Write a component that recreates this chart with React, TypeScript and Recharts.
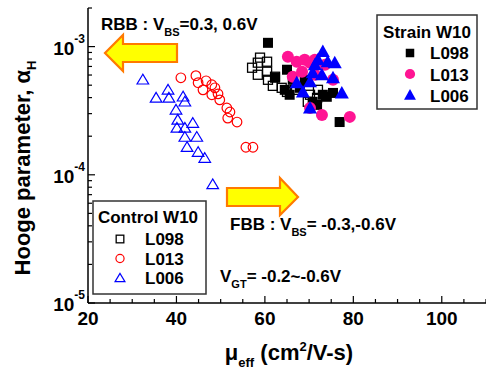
import React from 'react';
import { ScatterChart, Scatter, XAxis, YAxis } from 'recharts';

// [mobility, hooge] pairs
const controlL098 = [
  [57.1, 6.84e-4], [58.4, 7.49e-4], [58.9, 8.2e-4], [60.5, 7.62e-4], [58.4, 6.03e-4],
  [60.5, 6.37e-4], [62.3, 5.82e-4], [60.7, 5.51e-4], [61.8, 4.94e-4], [63.8, 4.77e-4],
  [65.0, 4.43e-4], [66.8, 4.6e-4], [70.2, 4.21e-4], [71.8, 3.98e-4], [69.7, 3.71e-4],
  [72.0, 4.6e-4],
];
const controlL013 = [
  [41.0, 5.71e-4], [44.4, 5.93e-4], [44.9, 5.23e-4], [46.7, 5.41e-4], [48.0, 5.04e-4],
  [48.7, 4.77e-4], [46.0, 4.6e-4], [48.0, 4.21e-4], [49.4, 4.28e-4], [49.8, 3.84e-4],
  [51.4, 3.32e-4], [52.1, 3.09e-4], [51.6, 2.77e-4], [53.7, 2.58e-4], [55.7, 1.64e-4],
  [57.3, 1.64e-4],
];
const controlL006 = [
  [32.4, 5.51e-4], [35.4, 3.98e-4], [38.1, 4.6e-4], [38.3, 3.98e-4], [41.5, 4.06e-4],
  [41.9, 3.71e-4], [39.9, 3.21e-4], [40.3, 2.68e-4], [43.7, 2.53e-4], [40.1, 2.32e-4],
  [41.9, 2.32e-4], [41.9, 1.97e-4], [44.6, 1.97e-4], [42.4, 1.64e-4], [44.9, 1.5e-4],
  [46.4, 1.35e-4], [48.2, 8.4e-5],
];
const strainL098 = [
  [60.7, 1.07e-3], [62.3, 5.71e-4], [65.0, 6.6e-4], [66.3, 5.51e-4], [64.5, 4.6e-4],
  [65.6, 4.21e-4], [67.9, 4.77e-4], [70.8, 3.71e-4], [71.8, 3.51e-4], [73.1, 4.21e-4],
  [74.0, 4.06e-4], [75.4, 4.35e-4], [76.9, 2.58e-4], [69.0, 5.51e-4],
];
const strainL013 = [
  [65.2, 8.35e-4], [67.2, 7.62e-4], [69.0, 7.91e-4], [70.2, 7.49e-4], [71.3, 7.91e-4],
  [66.3, 5.82e-4], [68.4, 6.37e-4], [71.3, 6.03e-4], [75.4, 5.51e-4], [70.2, 3.32e-4],
  [72.9, 2.93e-4], [79.2, 2.83e-4], [73.6, 7.22e-4],
];
const strainL006 = [
  [73.1, 9.14e-4], [72.0, 7.91e-4], [74.2, 7.62e-4], [75.8, 7.49e-4], [70.8, 6.25e-4],
  [72.9, 6.03e-4], [67.2, 5.23e-4], [70.2, 5.31e-4], [75.4, 5.71e-4], [68.6, 4.43e-4],
  [77.4, 4.35e-4], [70.2, 3.32e-4], [71.3, 7.22e-4],
];

const xTicks = [20, 25, 30, 35, 40, 45, 50, 55, 60, 65, 70, 75, 80, 85, 90, 95, 100, 105, 110];
const xLabels = [20, 40, 60, 80, 100];
const yDecades = [1e-5, 1e-4, 1e-3];
const yMantissas = [1, 2, 3, 4, 5, 6, 7, 8, 9];
const yTicks = yDecades.flatMap(d => yMantissas.map(m => m * d)).filter(v => v <= 2.01e-3);

const FONT = '"Liberation Sans", Arial, sans-serif';
const toPts = (arr: number[][]) => arr.map(([x, y]) => ({ x, y }));

type Kind = 'osq' | 'ocirc' | 'otri' | 'fsq' | 'fcirc' | 'ftri';

function Marker({ cx, cy, kind, s = 1 }: { cx: number; cy: number; kind: Kind; s?: number }) {
  if (cx == null || cy == null) return null;
  switch (kind) {
    case 'osq':
      return <rect x={cx - 4.5 * s} y={cy - 4.5 * s} width={9 * s} height={9 * s} fill="none" stroke="#000" strokeWidth={1.3} />;
    case 'ocirc':
      return <circle cx={cx} cy={cy} r={4.8 * s} fill="none" stroke="#ff0000" strokeWidth={1.2} />;
    case 'otri':
      return <polygon points={`${cx},${cy - 5.5 * s} ${cx - 5.8 * s},${cy + 4.2 * s} ${cx + 5.8 * s},${cy + 4.2 * s}`} fill="none" stroke="#0000ff" strokeWidth={1.2} />;
    case 'fsq':
      return <rect x={cx - 5 * s} y={cy - 5 * s} width={10 * s} height={10 * s} fill="#000" />;
    case 'fcirc':
      return <circle cx={cx} cy={cy} r={6 * s} fill="#ff1493" />;
    case 'ftri':
      return <polygon points={`${cx},${cy - 7 * s} ${cx - 7 * s},${cy + 5.5 * s} ${cx + 7 * s},${cy + 5.5 * s}`} fill="#0000ff" />;
  }
  return null;
}

const shapeOf = (kind: Kind) => (p: any) => <Marker cx={p.cx} cy={p.cy} kind={kind} />;

function BottomTick({ x, y, payload }: any) {
  const v = payload.value;
  const major = xLabels.includes(v);
  return (
    <g>
      <line x1={x} x2={x} y1={y} y2={y - (major ? 7 : 4)} stroke="#000" strokeWidth={1.2} />
      {major && (
        <text x={x} y={y + 22} textAnchor="middle" fontFamily={FONT} fontWeight="bold" fontSize={19} fill="#000">{v}</text>
      )}
    </g>
  );
}

function TopTick({ x, y, payload }: any) {
  const major = xLabels.includes(payload.value);
  return <line x1={x} x2={x} y1={y} y2={y + (major ? 7 : 4)} stroke="#000" strokeWidth={1.2} />;
}

function LeftTick({ x, y, payload }: any) {
  const v = payload.value;
  const idx = yDecades.findIndex(d => Math.abs(d - v) / d < 1e-6);
  const major = idx >= 0;
  return (
    <g>
      <line x1={x} x2={x + (major ? 7 : 4)} y1={y} y2={y} stroke="#000" strokeWidth={1.2} />
      {major && (
        <text x={85} y={y + 8} textAnchor="end" fontFamily={FONT} fontWeight="bold" fontSize={19} fill="#000">
          10<tspan dy={-12} fontSize={12}>{String(Math.round(Math.log10(v)))}</tspan>
        </text>
      )}
    </g>
  );
}

function RightTick({ x, y, payload }: any) {
  const v = payload.value;
  const major = yDecades.some(d => Math.abs(d - v) / d < 1e-6);
  return <line x1={x} x2={x - (major ? 7 : 4)} y1={y} y2={y} stroke="#000" strokeWidth={1.2} />;
}

const strainLegend: { name: string; kind: Kind }[] = [
  { name: 'L098', kind: 'fsq' },
  { name: 'L013', kind: 'fcirc' },
  { name: 'L006', kind: 'ftri' },
];
const controlLegend: { name: string; kind: Kind }[] = [
  { name: 'L098', kind: 'osq' },
  { name: 'L013', kind: 'ocirc' },
  { name: 'L006', kind: 'otri' },
];

function Overlay() {
  const t = { fontFamily: FONT, fontWeight: 'bold' as const, fill: '#000' };
  return (
    <svg width={486} height={372} style={{ position: 'absolute', left: 0, top: 0, pointerEvents: 'none' }}>
      {/* arrows */}
      <polygon points="105,53 123,35 123,44 177,44 177,62 123,62 123,71" fill="#ffff00" stroke="#ff7a00" strokeWidth={2.2} strokeLinejoin="miter" />
      <polygon points="298,197 280,178 280,188 227,188 227,206 280,206 280,215" fill="#ffff00" stroke="#ff7a00" strokeWidth={2.2} strokeLinejoin="miter" />

      <text x={101} y={30} fontSize={17} {...t}>
        RBB : V<tspan dy={6} fontSize={11}>BS</tspan><tspan dy={-6}>=0.3, 0.6V</tspan>
      </text>
      <text x={230} y={230} fontSize={17} {...t}>
        FBB : V<tspan dy={6} fontSize={11}>BS</tspan><tspan dy={-6}>= -0.3,-0.6V</tspan>
      </text>
      <text x={220} y={282} fontSize={17} {...t}>
        V<tspan dy={6} fontSize={11}>GT</tspan><tspan dy={-6}>= -0.2~-0.6V</tspan>
      </text>

      {/* strain legend */}
      <rect x={377} y={15} width={100} height={94} fill="#fff" stroke="#333" strokeWidth={1.5} />
      <text x={427} y={38} textAnchor="middle" fontSize={17} {...t}>Strain W10</text>
      {strainLegend.map((e, i) => (
        <g key={e.name}>
          <Marker cx={410} cy={53 + i * 21} kind={e.kind} s={0.85} />
          <text x={430} y={59 + i * 21.5} fontSize={17} {...t}>{e.name}</text>
        </g>
      ))}

      {/* control legend */}
      <rect x={93} y={201} width={113} height={93} fill="#fff" stroke="#333" strokeWidth={1.5} />
      <text x={148} y={223} textAnchor="middle" fontSize={17} {...t}>Control W10</text>
      {controlLegend.map((e, i) => (
        <g key={e.name}>
          <Marker cx={120} cy={239 + i * 19.5} kind={e.kind} s={0.85} />
          <text x={145} y={245 + i * 19.5} fontSize={17} {...t}>{e.name}</text>
        </g>
      ))}

      {/* axis titles */}
      <text x={289} y={360} textAnchor="middle" fontSize={22} {...t}>
        μ<tspan dy={7} fontSize={13}>eff</tspan><tspan dy={-7}> (cm</tspan><tspan dy={-9} fontSize={13}>2</tspan><tspan dy={9}>/V-s)</tspan>
      </text>
      <text transform="translate(30,168) rotate(-90)" x={0} y={0} textAnchor="middle" fontSize={22} {...t}>
        Hooge parameter, α<tspan dy={6} fontSize={13}>H</tspan>
      </text>
    </svg>
  );
}

export default function App() {
  return (
    <div style={{ position: 'absolute', left: 0, top: 0, width: 486, height: 372, background: '#fff' }}>
      <ScatterChart width={486} height={372} margin={{ top: 8, right: 0, bottom: 0, left: 0 }}>
        <XAxis
          xAxisId="b" dataKey="x" type="number" domain={[20, 110]} ticks={xTicks} interval={0}
          allowDataOverflow height={69} tickSize={0} tickMargin={0} tick={<BottomTick />}
          axisLine={{ stroke: '#000', strokeWidth: 1.5 }} tickLine={false}
        />
        <XAxis
          xAxisId="t" orientation="top" type="number" domain={[20, 110]} ticks={xTicks} interval={0}
          allowDataOverflow height={0} tickSize={0} tickMargin={0} tick={<TopTick />}
          axisLine={{ stroke: '#000', strokeWidth: 1.5 }} tickLine={false}
        />
        <YAxis
          yAxisId="l" dataKey="y" type="number" scale="log" domain={[1e-5, 2e-3]} ticks={yTicks} interval={0}
          allowDataOverflow width={88} tickSize={0} tickMargin={0} tick={<LeftTick />}
          axisLine={{ stroke: '#000', strokeWidth: 1.5 }} tickLine={false}
        />
        <YAxis
          yAxisId="r" orientation="right" type="number" scale="log" domain={[1e-5, 2e-3]} ticks={yTicks} interval={0}
          allowDataOverflow width={0} tickSize={0} tickMargin={0} tick={<RightTick />}
          axisLine={{ stroke: '#000', strokeWidth: 1.5 }} tickLine={false}
        />
        <Scatter xAxisId="b" yAxisId="l" data={toPts(controlL006)} shape={shapeOf('otri')} isAnimationActive={false} />
        <Scatter xAxisId="b" yAxisId="l" data={toPts(controlL013)} shape={shapeOf('ocirc')} isAnimationActive={false} />
        <Scatter xAxisId="b" yAxisId="l" data={toPts(controlL098)} shape={shapeOf('osq')} isAnimationActive={false} />
        <Scatter xAxisId="b" yAxisId="l" data={toPts(strainL098)} shape={shapeOf('fsq')} isAnimationActive={false} />
        <Scatter xAxisId="b" yAxisId="l" data={toPts(strainL013)} shape={shapeOf('fcirc')} isAnimationActive={false} />
        <Scatter xAxisId="b" yAxisId="l" data={toPts(strainL006)} shape={shapeOf('ftri')} isAnimationActive={false} />
      </ScatterChart>
      <Overlay />
    </div>
  );
}
